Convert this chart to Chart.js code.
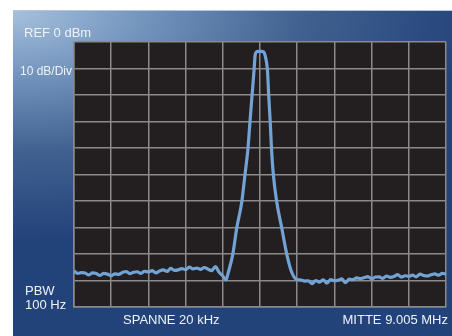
<!DOCTYPE html>
<html>
<head>
<meta charset="utf-8">
<script src="https://cdn.jsdelivr.net/npm/chart.js@4"></script>
<style>
  html, body { margin: 0; padding: 0; background: #fff; }
  #wrap { position: relative; width: 452px; height: 336px; overflow: hidden; }
  #panel {
    position: absolute; left: 13px; top: 10px; width: 439px; height: 326px;
    background: radial-gradient(ellipse 470px 230px at 0px 0px, #a6c1dd 0%, #7394bd 28%, #40618f 62%, #22427a 100%);
    border-top: 1px solid #b4c6dc;
    box-sizing: border-box;
  }
  #myChart { position: absolute; left: 0; top: 0; }
  .lbl { position: absolute; color: #eef2f7; font-family: "Liberation Sans", Arial, sans-serif; font-size: 13px; line-height: 15px; white-space: nowrap; }
</style>
</head>
<body>
<div id="wrap">
  <div id="panel"></div>
  <canvas id="myChart" width="452" height="336"></canvas>
  <div class="lbl" style="left:24px; top:25px;">REF 0 dBm</div>
  <div class="lbl" style="left:20px; top:64px; font-size:12px;">10 dB/Div</div>
  <div class="lbl" style="left:25px; top:283px;">PBW</div>
  <div class="lbl" style="left:25px; top:297px;">100 Hz</div>
  <div class="lbl" style="left:123px; top:312px;">SPANNE 20 kHz</div>
  <div class="lbl" style="right:4px; top:312px;">MITTE 9.005 MHz</div>
</div>
<script>
// frequency offset from centre (kHz) and measured level (dBm)
var freqKHz = [
  -10, -9.8, -9.6, -9.4, -9.2, -9.0, -8.8, -8.6, -8.4, -8.2,
  -8.0, -7.8, -7.6, -7.4, -7.2, -7.0, -6.8, -6.6, -6.4, -6.2,
  -6.0, -5.8, -5.6, -5.4, -5.2, -5.0, -4.8, -4.6, -4.4, -4.2,
  -4.0, -3.8, -3.6, -3.4, -3.2, -3.0, -2.8, -2.6, -2.4, -2.2,
  -2.0, -1.83, -1.70, -1.47, -1.25, -0.98, -0.81, -0.65, -0.54, -0.43,
  -0.32, -0.27, -0.24, -0.18, -0.09, 0, 0.09, 0.18, 0.24, 0.29,
  0.40, 0.47, 0.55, 0.62, 0.72, 0.90, 1.17, 1.45, 1.70, 1.97,
  2.2, 2.4, 2.6, 2.8, 3.0, 3.2, 3.4, 3.6, 3.8, 4.0,
  4.2, 4.4, 4.6, 4.8, 5.0, 5.2, 5.4, 5.6, 5.8, 6.0,
  6.2, 6.4, 6.6, 6.8, 7.0, 7.2, 7.4, 7.6, 7.8, 8.0,
  8.2, 8.4, 8.6, 8.8, 9.0, 9.2, 9.4, 9.6, 9.8, 10.0
];
var levelDb = [
  -86.4, -87.3, -87.0, -87.2, -87.9, -87.1, -87.4, -88.1, -87.3, -87.6,
  -88.2, -87.5, -87.7, -87.0, -86.6, -87.4, -86.9, -86.7, -87.3, -86.5,
  -86.8, -86.3, -87.1, -86.4, -86.0, -86.6, -85.4, -86.2, -86.0, -85.5,
  -85.9, -84.9, -85.6, -85.3, -85.8, -85.1, -85.7, -86.3, -84.8, -86.9,
  -88.3, -89.8, -86.8, -80.4, -70.2, -60.4, -50.2, -40.4, -30.2, -20.4,
  -10.6, -5.5, -4.3, -3.7, -3.5, -3.5, -3.5, -3.7, -4.3, -5.5,
  -10.6, -20.4, -30.2, -40.4, -50.2, -60.4, -70.2, -80.4, -86.8, -89.6,
  -89.8, -90.2, -90.1, -91.2, -90.0, -90.6, -89.8, -91.0, -89.7, -90.1,
  -89.9, -89.4, -90.8, -89.5, -89.7, -89.0, -89.3, -88.9, -88.5, -89.4,
  -88.7, -88.6, -89.2, -88.3, -88.8, -88.5, -87.8, -88.7, -88.2, -88.4,
  -88.0, -88.6, -87.6, -88.1, -88.3, -87.8, -87.5, -88.0, -87.3, -87.6
];

var points = freqKHz.map(function(f, i) { return { x: f, y: levelDb[i] }; });

var plotBg = {
  id: 'plotBg',
  beforeDraw: function(chart) {
    var a = chart.chartArea, c = chart.ctx;
    c.save();
    c.fillStyle = '#231f20';
    c.fillRect(a.left, a.top, a.right - a.left, a.bottom - a.top);
    c.restore();
  }
};

var ctx = document.getElementById('myChart').getContext('2d');
var chart = new Chart(ctx, {
  type: 'line',
  data: {
    datasets: [{
      label: 'Spektrum',
      data: points,
      borderColor: '#72a3d4',
      borderWidth: 3.2,
      pointRadius: 0,
      cubicInterpolationMode: 'monotone',
      fill: false
    }]
  },
  options: {
    responsive: false,
    animation: false,
    layout: { padding: { left: 74, top: 42, right: 6, bottom: 29 } },
    plugins: { legend: { display: false }, tooltip: { enabled: false } },
    scales: {
      x: {
        type: 'linear', min: -10, max: 10,
        ticks: { display: false, stepSize: 2 },
        grid: { color: '#8a8a8a', lineWidth: 1.5, drawTicks: false },
        border: { color: '#8a8a8a', width: 1.5 }
      },
      y: {
        min: -100, max: 0,
        ticks: { display: false, stepSize: 10 },
        grid: { color: '#8a8a8a', lineWidth: 1.5, drawTicks: false },
        border: { color: '#8a8a8a', width: 1.5 }
      }
    }
  },
  plugins: [plotBg]
});
</script>
</body>
</html>
